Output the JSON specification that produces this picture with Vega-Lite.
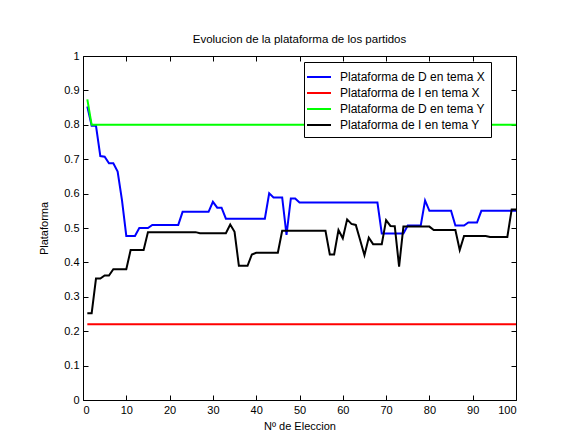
{
  "$schema": "https://vega.github.io/schema/vega-lite/v6.json",
  "autosize": "none",
  "width": 433,
  "height": 344,
  "padding": {"left": 83, "top": 56, "right": 45, "bottom": 39},
  "background": "white",
  "title": {"text": "Evolucion de la plataforma de los partidos", "font": "Liberation Sans", "fontSize": 11.5, "fontWeight": "normal", "color": "black", "offset": 5},
  "config": {
    "font": "Liberation Sans",
    "view": {"stroke": "black", "strokeWidth": 1},
    "axis": {"labelFont": "Liberation Sans", "labelFontSize": 11, "labelColor": "black", "titleFont": "Liberation Sans", "titleFontSize": 11, "titleFontWeight": "normal", "titleColor": "black", "tickColor": "black", "domainColor": "black", "grid": false, "tickSize": -5, "labelPadding": 9}
  },
  "data": {"values": [
    {"serie": "Plataforma de D en tema X", "eleccion": 1, "plataforma": 0.853},
    {"serie": "Plataforma de D en tema X", "eleccion": 2, "plataforma": 0.797},
    {"serie": "Plataforma de D en tema X", "eleccion": 3, "plataforma": 0.797},
    {"serie": "Plataforma de D en tema X", "eleccion": 4, "plataforma": 0.709},
    {"serie": "Plataforma de D en tema X", "eleccion": 5, "plataforma": 0.707},
    {"serie": "Plataforma de D en tema X", "eleccion": 6, "plataforma": 0.688},
    {"serie": "Plataforma de D en tema X", "eleccion": 7, "plataforma": 0.688},
    {"serie": "Plataforma de D en tema X", "eleccion": 8, "plataforma": 0.664},
    {"serie": "Plataforma de D en tema X", "eleccion": 9, "plataforma": 0.581},
    {"serie": "Plataforma de D en tema X", "eleccion": 10, "plataforma": 0.477},
    {"serie": "Plataforma de D en tema X", "eleccion": 12, "plataforma": 0.477},
    {"serie": "Plataforma de D en tema X", "eleccion": 13, "plataforma": 0.5},
    {"serie": "Plataforma de D en tema X", "eleccion": 15, "plataforma": 0.5},
    {"serie": "Plataforma de D en tema X", "eleccion": 16, "plataforma": 0.509},
    {"serie": "Plataforma de D en tema X", "eleccion": 22, "plataforma": 0.509},
    {"serie": "Plataforma de D en tema X", "eleccion": 23, "plataforma": 0.547},
    {"serie": "Plataforma de D en tema X", "eleccion": 29, "plataforma": 0.547},
    {"serie": "Plataforma de D en tema X", "eleccion": 30, "plataforma": 0.576},
    {"serie": "Plataforma de D en tema X", "eleccion": 31, "plataforma": 0.559},
    {"serie": "Plataforma de D en tema X", "eleccion": 32, "plataforma": 0.559},
    {"serie": "Plataforma de D en tema X", "eleccion": 33, "plataforma": 0.527},
    {"serie": "Plataforma de D en tema X", "eleccion": 42, "plataforma": 0.527},
    {"serie": "Plataforma de D en tema X", "eleccion": 43, "plataforma": 0.601},
    {"serie": "Plataforma de D en tema X", "eleccion": 44, "plataforma": 0.589},
    {"serie": "Plataforma de D en tema X", "eleccion": 46, "plataforma": 0.589},
    {"serie": "Plataforma de D en tema X", "eleccion": 47, "plataforma": 0.48},
    {"serie": "Plataforma de D en tema X", "eleccion": 48, "plataforma": 0.586},
    {"serie": "Plataforma de D en tema X", "eleccion": 49, "plataforma": 0.586},
    {"serie": "Plataforma de D en tema X", "eleccion": 50, "plataforma": 0.574},
    {"serie": "Plataforma de D en tema X", "eleccion": 68, "plataforma": 0.574},
    {"serie": "Plataforma de D en tema X", "eleccion": 69, "plataforma": 0.484},
    {"serie": "Plataforma de D en tema X", "eleccion": 74, "plataforma": 0.484},
    {"serie": "Plataforma de D en tema X", "eleccion": 75, "plataforma": 0.507},
    {"serie": "Plataforma de D en tema X", "eleccion": 78, "plataforma": 0.507},
    {"serie": "Plataforma de D en tema X", "eleccion": 79, "plataforma": 0.58},
    {"serie": "Plataforma de D en tema X", "eleccion": 80, "plataforma": 0.55},
    {"serie": "Plataforma de D en tema X", "eleccion": 85, "plataforma": 0.55},
    {"serie": "Plataforma de D en tema X", "eleccion": 86, "plataforma": 0.507},
    {"serie": "Plataforma de D en tema X", "eleccion": 88, "plataforma": 0.507},
    {"serie": "Plataforma de D en tema X", "eleccion": 89, "plataforma": 0.516},
    {"serie": "Plataforma de D en tema X", "eleccion": 91, "plataforma": 0.516},
    {"serie": "Plataforma de D en tema X", "eleccion": 92, "plataforma": 0.55},
    {"serie": "Plataforma de D en tema X", "eleccion": 100, "plataforma": 0.55},
    {"serie": "Plataforma de I en tema X", "eleccion": 1, "plataforma": 0.22},
    {"serie": "Plataforma de I en tema X", "eleccion": 100, "plataforma": 0.22},
    {"serie": "Plataforma de D en tema Y", "eleccion": 1, "plataforma": 0.874},
    {"serie": "Plataforma de D en tema Y", "eleccion": 2, "plataforma": 0.8},
    {"serie": "Plataforma de D en tema Y", "eleccion": 100, "plataforma": 0.8},
    {"serie": "Plataforma de I en tema Y", "eleccion": 1, "plataforma": 0.252},
    {"serie": "Plataforma de I en tema Y", "eleccion": 2, "plataforma": 0.252},
    {"serie": "Plataforma de I en tema Y", "eleccion": 3, "plataforma": 0.353},
    {"serie": "Plataforma de I en tema Y", "eleccion": 4, "plataforma": 0.353},
    {"serie": "Plataforma de I en tema Y", "eleccion": 5, "plataforma": 0.362},
    {"serie": "Plataforma de I en tema Y", "eleccion": 6, "plataforma": 0.362},
    {"serie": "Plataforma de I en tema Y", "eleccion": 7, "plataforma": 0.38},
    {"serie": "Plataforma de I en tema Y", "eleccion": 10, "plataforma": 0.38},
    {"serie": "Plataforma de I en tema Y", "eleccion": 11, "plataforma": 0.436},
    {"serie": "Plataforma de I en tema Y", "eleccion": 14, "plataforma": 0.436},
    {"serie": "Plataforma de I en tema Y", "eleccion": 15, "plataforma": 0.488},
    {"serie": "Plataforma de I en tema Y", "eleccion": 26, "plataforma": 0.488},
    {"serie": "Plataforma de I en tema Y", "eleccion": 27, "plataforma": 0.485},
    {"serie": "Plataforma de I en tema Y", "eleccion": 33, "plataforma": 0.485},
    {"serie": "Plataforma de I en tema Y", "eleccion": 34, "plataforma": 0.51},
    {"serie": "Plataforma de I en tema Y", "eleccion": 35, "plataforma": 0.489},
    {"serie": "Plataforma de I en tema Y", "eleccion": 36, "plataforma": 0.39},
    {"serie": "Plataforma de I en tema Y", "eleccion": 38, "plataforma": 0.39},
    {"serie": "Plataforma de I en tema Y", "eleccion": 39, "plataforma": 0.423},
    {"serie": "Plataforma de I en tema Y", "eleccion": 40, "plataforma": 0.428},
    {"serie": "Plataforma de I en tema Y", "eleccion": 45, "plataforma": 0.428},
    {"serie": "Plataforma de I en tema Y", "eleccion": 46, "plataforma": 0.492},
    {"serie": "Plataforma de I en tema Y", "eleccion": 56, "plataforma": 0.492},
    {"serie": "Plataforma de I en tema Y", "eleccion": 57, "plataforma": 0.423},
    {"serie": "Plataforma de I en tema Y", "eleccion": 58, "plataforma": 0.423},
    {"serie": "Plataforma de I en tema Y", "eleccion": 59, "plataforma": 0.494},
    {"serie": "Plataforma de I en tema Y", "eleccion": 60, "plataforma": 0.47},
    {"serie": "Plataforma de I en tema Y", "eleccion": 61, "plataforma": 0.525},
    {"serie": "Plataforma de I en tema Y", "eleccion": 62, "plataforma": 0.512},
    {"serie": "Plataforma de I en tema Y", "eleccion": 63, "plataforma": 0.509},
    {"serie": "Plataforma de I en tema Y", "eleccion": 64, "plataforma": 0.465},
    {"serie": "Plataforma de I en tema Y", "eleccion": 65, "plataforma": 0.421},
    {"serie": "Plataforma de I en tema Y", "eleccion": 66, "plataforma": 0.472},
    {"serie": "Plataforma de I en tema Y", "eleccion": 67, "plataforma": 0.453},
    {"serie": "Plataforma de I en tema Y", "eleccion": 69, "plataforma": 0.453},
    {"serie": "Plataforma de I en tema Y", "eleccion": 70, "plataforma": 0.523},
    {"serie": "Plataforma de I en tema Y", "eleccion": 71, "plataforma": 0.506},
    {"serie": "Plataforma de I en tema Y", "eleccion": 72, "plataforma": 0.505},
    {"serie": "Plataforma de I en tema Y", "eleccion": 73, "plataforma": 0.388},
    {"serie": "Plataforma de I en tema Y", "eleccion": 74, "plataforma": 0.504},
    {"serie": "Plataforma de I en tema Y", "eleccion": 80, "plataforma": 0.504},
    {"serie": "Plataforma de I en tema Y", "eleccion": 81, "plataforma": 0.494},
    {"serie": "Plataforma de I en tema Y", "eleccion": 86, "plataforma": 0.494},
    {"serie": "Plataforma de I en tema Y", "eleccion": 87, "plataforma": 0.436},
    {"serie": "Plataforma de I en tema Y", "eleccion": 88, "plataforma": 0.477},
    {"serie": "Plataforma de I en tema Y", "eleccion": 93, "plataforma": 0.477},
    {"serie": "Plataforma de I en tema Y", "eleccion": 94, "plataforma": 0.474},
    {"serie": "Plataforma de I en tema Y", "eleccion": 98, "plataforma": 0.474},
    {"serie": "Plataforma de I en tema Y", "eleccion": 99, "plataforma": 0.554},
    {"serie": "Plataforma de I en tema Y", "eleccion": 100, "plataforma": 0.554}
  ]},
  "layer": [
    {
      "mark": {"type": "line", "strokeWidth": 2},
      "encoding": {
        "x": {"field": "eleccion", "type": "quantitative", "scale": {"domain": [0, 100], "nice": false},
              "axis": {"title": "Nº de Eleccion", "values": [0,10,20,30,40,50,60,70,80,90,100], "domain": false, "titlePadding": 5}},
        "y": {"field": "plataforma", "type": "quantitative", "scale": {"domain": [0, 1], "nice": false},
              "axis": {"title": "Plataforma", "values": [0,0.1,0.2,0.3,0.4,0.5,0.6,0.7,0.8,0.9,1], "format": "~g", "domain": false, "titlePadding": 14}},
        "color": {"field": "serie", "type": "nominal",
                  "scale": {"domain": ["Plataforma de D en tema X", "Plataforma de I en tema X", "Plataforma de D en tema Y", "Plataforma de I en tema Y"], "range": ["#0000ff", "#ff0000", "#00ff00", "#000000"]},
                  "legend": {"title": null, "orient": "none", "legendX": 221, "legendY": 6, "direction": "vertical",
                             "fillColor": "white", "strokeColor": "black", "padding": 6,
                             "symbolType": "M-1.5,0H1.5", "symbolSize": 256, "symbolStrokeWidth": 2,
                             "labelFont": "Liberation Sans", "labelFontSize": 12, "labelColor": "black", "labelOffset": 12, "rowPadding": 1, "labelLimit": 300}}
      }
    },
    {
      "mark": {"type": "line", "strokeOpacity": 0},
      "encoding": {
        "x": {"field": "eleccion", "type": "quantitative", "axis": {"orient": "top", "labels": false, "title": null, "domain": false, "values": [0,10,20,30,40,50,60,70,80,90,100]}},
        "y": {"field": "plataforma", "type": "quantitative", "axis": {"orient": "right", "labels": false, "title": null, "domain": false, "values": [0,0.1,0.2,0.3,0.4,0.5,0.6,0.7,0.8,0.9,1]}},
        "detail": {"field": "serie", "type": "nominal"}
      }
    }
  ],
  "resolve": {"axis": {"x": "independent", "y": "independent"}}
}
